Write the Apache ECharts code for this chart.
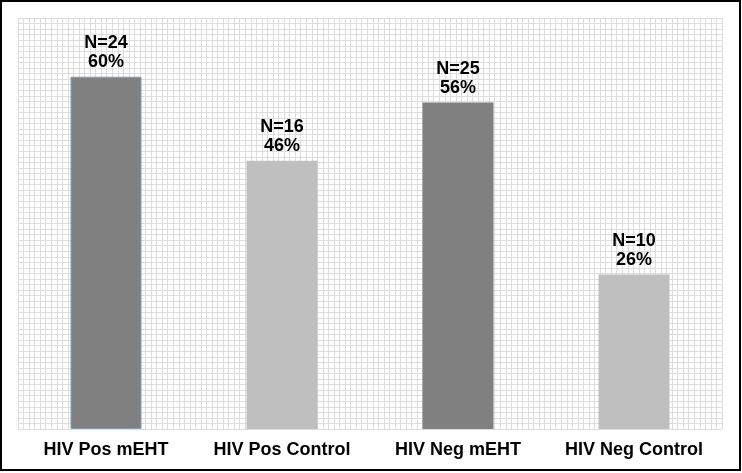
<!DOCTYPE html>
<html><head><meta charset="utf-8">
<script src="https://cdn.jsdelivr.net/npm/echarts@6/dist/echarts.min.js"></script>
<style>html,body{margin:0;padding:0;background:#fff}#c{width:742px;height:473px}</style>
</head><body><div id="c"></div>
<script>
const categories = ['HIV Pos mEHT', 'HIV Pos Control', 'HIV Neg mEHT', 'HIV Neg Control'];
const percents = [60.0, 45.7, 55.6, 26.3];
const counts = [24, 16, 25, 10];
const barColors = ['#808080', '#bfbfbf', '#808080', '#bfbfbf'];

const chart = echarts.init(document.getElementById('c'), null, {renderer: 'canvas'});
chart.setOption({
  animation: false,
  backgroundColor: '#fff',
  graphic: [{
    type: 'rect', z: 100, silent: true,
    shape: {x: 1, y: 1, width: 739, height: 469},
    style: {fill: 'none', stroke: '#000', lineWidth: 2}
  }],
  grid: {left: 18, right: 20, top: 18, bottom: 44, containLabel: false},
  xAxis: [{
    type: 'category', data: categories,
    axisLine: {show: false}, axisTick: {show: false},
    axisLabel: {interval: 0, hideOverlap: false, color: '#000', fontFamily: 'Liberation Sans, Arial', fontWeight: 'bold', fontSize: 18, margin: 12}
  }, {
    type: 'value', min: 0, max: 127, interval: 1, position: 'top',
    axisLine: {show: false}, axisTick: {show: false}, axisLabel: {show: false},
    splitLine: {show: true, lineStyle: {color: '#dddddd', width: 1}}
  }],
  yAxis: [{
    type: 'value', min: 0, max: 70,
    axisLine: {show: false}, axisTick: {show: false}, axisLabel: {show: false},
    splitLine: {show: false}
  }, {
    type: 'value', min: 0, max: 74, interval: 1,
    axisLine: {show: false}, axisTick: {show: false}, axisLabel: {show: false},
    splitLine: {show: true, lineStyle: {color: '#dddddd', width: 1}}
  }],
  series: [{
    type: 'bar', xAxisIndex: 0, yAxisIndex: 0,
    barWidth: 71,
    data: percents.map((v, i) => ({value: v, itemStyle: {color: barColors[i], borderColor: i === 0 ? '#8a9bb3' : barColors[i], borderWidth: i === 0 ? 1 : 0}})),
    label: {
      show: true, position: 'top', distance: 5,
      color: '#000', fontFamily: 'Liberation Sans, Arial', fontWeight: 'bold', fontSize: 18, lineHeight: 19,
      formatter: p => 'N=' + counts[p.dataIndex] + '\n' + Math.round(percents[p.dataIndex]) + '%'
    }
  }]
});
</script></body></html>
